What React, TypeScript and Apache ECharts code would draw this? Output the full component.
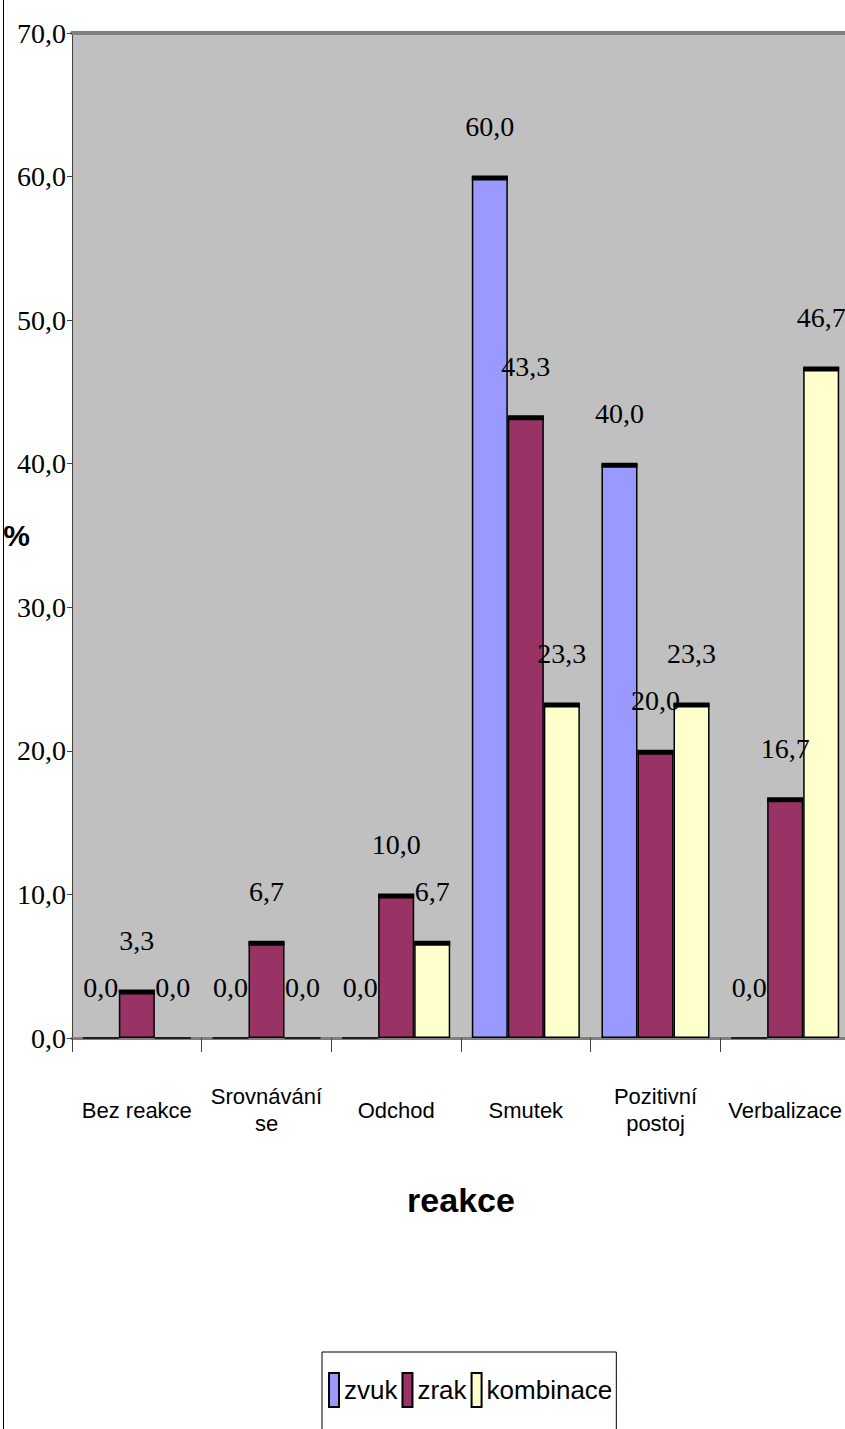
import React, { useEffect, useRef } from "react";
import * as echarts from "echarts";

const categories = ["Bez reakce", "Srovnávání se", "Odchod", "Smutek", "Pozitivní postoj", "Verbalizace"];
const seriesNames = ["zvuk", "zrak", "kombinace"];
const zvuk = [0.0, 0.0, 0.0, 60.0, 40.0, 0.0];
const zrak = [3.3, 6.7, 10.0, 43.3, 20.0, 16.7];
const kombinace = [0.0, 0.0, 6.7, 23.3, 23.3, 46.7];
const colors = ["#9999FF", "#993366", "#FFFFCC"];
const yTicks = { min: 0, max: 70, interval: 10 };

const fmt = (v: number) => v.toFixed(1).replace(".", ",");

export default function App() {
  const ref = useRef<HTMLDivElement>(null);
  useEffect(() => {
    if (!ref.current) return;
    const chart = echarts.init(ref.current, null, { renderer: "svg" });
    const allSeries = [zvuk, zrak, kombinace];
    const capData: number[][] = [];
    allSeries.forEach((arr, s) => arr.forEach((v, i) => capData.push([i, v, s])));
    const barFrac = 36 / 129.6;

    const serif = "'Liberation Serif', 'Times New Roman', serif";
    const sans = "'Liberation Sans', Arial, sans-serif";

    chart.setOption({
      animation: false,
      backgroundColor: "#ffffff",
      grid: {
        left: 72,
        right: -5,
        top: 33,
        bottom: 1429 - 1038,
        outerBoundsMode: "none",
        containLabel: false,
        show: true,
        backgroundColor: "#C0C0C0",
        borderWidth: 0,
      },
      legend: {
        data: seriesNames,
        left: 322,
        top: 1352,
        orient: "horizontal",
        backgroundColor: "#ffffff",
        borderColor: "#000000",
        borderWidth: 1,
        padding: [20, 4, 40, 6],
        itemGap: 4,
        itemWidth: 10,
        itemHeight: 34,
        icon: "rect",
        textStyle: { fontSize: 26, fontFamily: sans, color: "#000" },
      },
      xAxis: [
        {
          type: "category",
          data: categories,
          position: "bottom",
          name: "reakce",
          nameLocation: "middle",
          nameGap: 145,
          nameMoveOverlap: false,
          nameTextStyle: { fontSize: 34, fontWeight: "bold", fontFamily: sans, color: "#000" },
          axisLine: { lineStyle: { color: "#808080", width: 3 } },
          axisTick: { show: true, length: 14, lineStyle: { color: "#404040", width: 1 } },
          axisLabel: {
            interval: 0,
            margin: 72,
            fontSize: 22,
            lineHeight: 27,
            verticalAlign: "middle",
            formatter: (v: string) => (v.length > 11 ? v.replace(" ", "\n") : v),
            fontFamily: sans,
            color: "#000",
          },
        },
        {
          type: "category",
          data: categories,
          position: "top",
          axisLine: { lineStyle: { color: "#808080", width: 4 } },
          axisTick: { show: false },
          axisLabel: { show: false },
        },
      ],
      yAxis: {
        type: "value",
        min: yTicks.min,
        max: yTicks.max,
        interval: yTicks.interval,
        name: "%",
        nameLocation: "middle",
        nameRotate: 0,
        nameGap: 42,
        nameMoveOverlap: false,
        nameTextStyle: { fontSize: 30, fontWeight: "bold", fontFamily: sans, color: "#000" },
        axisLine: { show: true, lineStyle: { color: "#404040", width: 1 } },
        axisTick: { show: true, length: 5, lineStyle: { color: "#404040" } },
        splitLine: { show: false },
        axisLabel: {
          formatter: (v: number) => fmt(v),
          fontSize: 28,
          fontFamily: serif,
          color: "#000",
          margin: 6,
        },
      },
      graphic: [
        {
          type: "rect",
          shape: { x: 3.5, y: -10, width: 900, height: 1500 },
          style: { fill: "none", stroke: "#000", lineWidth: 1 },
          silent: true,
          z: 100,
        },
      ],
      series: [
        ...allSeries.map((arr, s) => ({
          type: "bar",
          name: seriesNames[s],
          data: arr,
          barWidth: (barFrac * 100).toFixed(2) + "%",
          barGap: "0%",
          itemStyle: { color: colors[s], borderColor: "#000", borderWidth: 1.5 },
          label: {
            show: true,
            position: "top",
            distance: 36,
            formatter: (p: any) => fmt(p.value),
            fontSize: 28,
            fontFamily: serif,
            color: "#000",
          },
        })),
        {
          type: "custom",
          name: "caps",
          silent: true,
          z: 5,
          data: capData,
          renderItem: (params: any, api: any) => {
            const cat = api.value(0);
            const v = api.value(1);
            const s = api.value(2);
            if (v <= 0) return null;
            const p = api.coord([cat, v]);
            const band = api.size([1, 0])[0];
            const bw = band * barFrac;
            const x = p[0] + (s - 1) * bw - bw / 2;
            return {
              type: "rect",
              shape: { x: x, y: p[1] - 1, width: bw, height: 5 },
              style: { fill: "#000" },
            };
          },
        },
      ],
    });
    return () => chart.dispose();
  }, []);
  return (
    <div
      ref={ref}
      style={{ position: "fixed", left: 0, top: 0, width: 845, height: 1429 }}
    />
  );
}
